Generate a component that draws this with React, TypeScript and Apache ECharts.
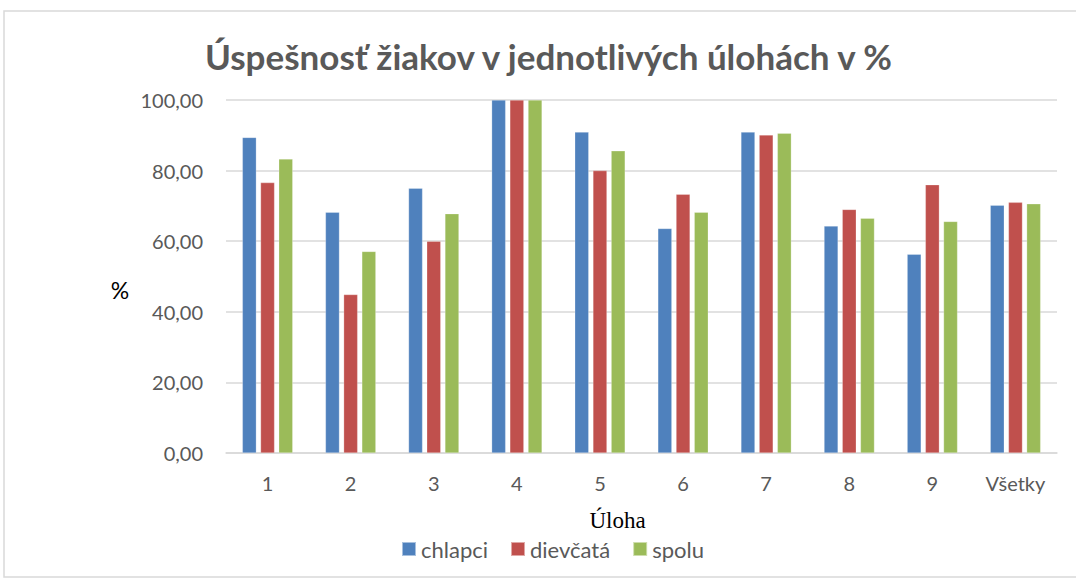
import React, { useEffect, useRef } from "react";
import * as echarts from "echarts";

const categories = ["1", "2", "3", "4", "5", "6", "7", "8", "9", "Všetky"];
const chlapci = [89.4, 68.2, 75.0, 100, 90.9, 63.6, 90.9, 64.3, 56.3, 70.2];
const dievcata = [76.6, 44.9, 60.0, 100, 80.0, 73.3, 90.1, 69.0, 76.0, 71.0];
const spolu = [83.3, 57.1, 67.8, 100, 85.6, 68.2, 90.6, 66.5, 65.6, 70.6];
const seriesNames = ["chlapci", "dievčatá", "spolu"];
const colors = ["#4F81BD", "#C0504D", "#9BBB59"];

export default function App() {
  const ref = useRef<HTMLDivElement>(null);
  useEffect(() => {
    document.body.style.margin = "0";
    const chart = echarts.init(ref.current!, null, { renderer: "svg" });
    const font = "Lato, 'Open Sans', sans-serif";
    const data = [chlapci, dievcata, spolu];
    chart.setOption({
      animation: false,
      backgroundColor: "#ffffff",
      title: {
        text: "Úspešnosť žiakov v jednotlivých úlohách v %",
        left: 200,
        top: 33,
        textStyle: { fontFamily: font, fontSize: 35, fontWeight: "bold", color: "#595959" },
      },
      graphic: [
        {
          type: "rect",
          shape: { x: 4, y: 11, width: 1080, height: 566 },
          style: { fill: "none", stroke: "#d9d9d9", lineWidth: 1.5 },
          silent: true,
        },
        {
          type: "text",
          x: 120,
          y: 290,
          style: {
            text: "%",
            fontFamily: font,
            fontSize: 23,
            fill: "#000",
            align: "center",
            verticalAlign: "middle",
          },
          silent: true,
        },
      ],
      legend: {
        data: seriesNames,
        bottom: 16,
        left: 396,
        itemWidth: 14,
        itemHeight: 14,
        itemGap: 22,
        icon: "rect",
        textStyle: { fontFamily: font, fontSize: 22, color: "#595959" },
      },
      grid: { left: 226, right: 19, top: 100, bottom: 128 },
      xAxis: {
        type: "category",
        data: categories,
        name: "Úloha",
        nameLocation: "middle",
        nameGap: 56,
        nameTextStyle: {
          fontFamily: "'Liberation Serif', serif",
          fontSize: 23,
          color: "#000",
          padding: [0, 48, 0, 0],
        },
        axisLine: { lineStyle: { color: "#d9d9d9", width: 1.5 } },
        axisTick: { show: false },
        axisLabel: { fontFamily: font, fontSize: 20, color: "#595959", margin: 20 },
      },
      yAxis: {
        type: "value",
        min: 0,
        max: 100,
        interval: 20,
        axisLine: { show: false },
        axisTick: { show: false },
        splitLine: { lineStyle: { color: "#d9d9d9", width: 1.5 } },
        axisLabel: {
          fontFamily: font,
          fontSize: 20,
          color: "#595959",
          margin: 23,
          formatter: (v: number) => v.toFixed(2).replace(".", ","),
        },
      },
      series: seriesNames.map((n, i) => ({
        name: n,
        type: "bar",
        data: data[i],
        barWidth: 14,
        barGap: "30%",
        itemStyle: { color: colors[i], borderColor: "rgba(255,255,255,0.5)", borderWidth: 0.5 },
      })),
    });
    return () => chart.dispose();
  }, []);
  return <div ref={ref} style={{ width: 1076, height: 581 }} />;
}
